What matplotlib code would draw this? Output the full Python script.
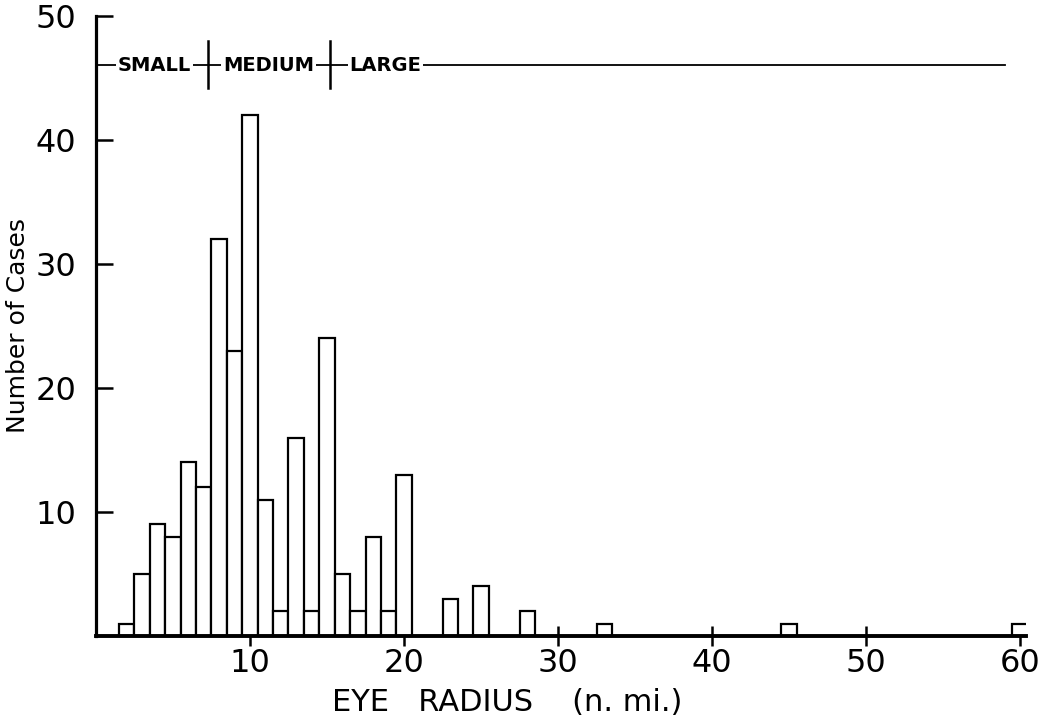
#!/usr/bin/env python3
"""Histogram of eye radius with small / medium / large classes."""

from matplotlib import pyplot as plt

# eye radius (n. mi.) at bar centres and number of cases
radius = [2, 3, 4, 5, 6, 7, 8, 9, 10, 11, 12, 13, 14, 15, 16, 17, 18, 19, 20,
          23, 25, 28, 33, 45, 60]
cases = [1, 5, 9, 8, 14, 12, 32, 23, 42, 11, 2, 16, 2, 24, 5, 2, 8, 2, 13,
         3, 4, 2, 1, 1, 1]

x_ticks = [10, 20, 30, 40, 50, 60]
y_ticks = [10, 20, 30, 40, 50]

class_names = ['SMALL', 'MEDIUM', 'LARGE']
class_label_x = [3.8, 11.2, 18.8]
class_bounds = [7.25, 15.2]


def main():
    fig = plt.figure(figsize=(10.41, 7.27), dpi=100)
    ax = fig.add_axes([0.0922, 0.1252, 0.8936, 0.853])

    ax.bar(radius, cases, width=1.0, facecolor='white', edgecolor='black',
           linewidth=1.6, zorder=2)

    # class bar near the top
    ax.plot([0, 59.0], [46, 46], color='black', lw=1.3, zorder=3)
    for xb in class_bounds:
        ax.plot([xb, xb], [44.2, 48.0], color='black', lw=1.8, zorder=3)
    for name, xc in zip(class_names, class_label_x):
        ax.text(xc, 46, name, ha='center', va='center', fontsize=14,
                fontweight='bold', zorder=4,
                bbox=dict(facecolor='white', edgecolor='none', pad=1.2))

    ax.set_xlim(0, 60.4)
    ax.set_ylim(0, 50)
    ax.spines['top'].set_visible(False)
    ax.spines['right'].set_visible(False)
    ax.spines['left'].set_linewidth(2.3)
    ax.spines['bottom'].set_linewidth(2.8)
    ax.spines['bottom'].set_zorder(5)

    ax.set_xticks(x_ticks)
    ax.set_yticks(y_ticks)
    ax.tick_params(axis='y', direction='in', length=12, width=1.8,
                   labelsize=23, pad=14)
    ax.tick_params(axis='x', direction='inout', length=14, width=1.8,
                   labelsize=23, pad=2)

    ax.set_ylabel('Number of Cases', fontsize=18, labelpad=4)
    ax.text(26.7, -5.4, 'EYE   RADIUS    (n. mi.)', ha='center', va='center',
            fontsize=22)

    fig.savefig('out.png', dpi=100)


if __name__ == "__main__":
    main()
